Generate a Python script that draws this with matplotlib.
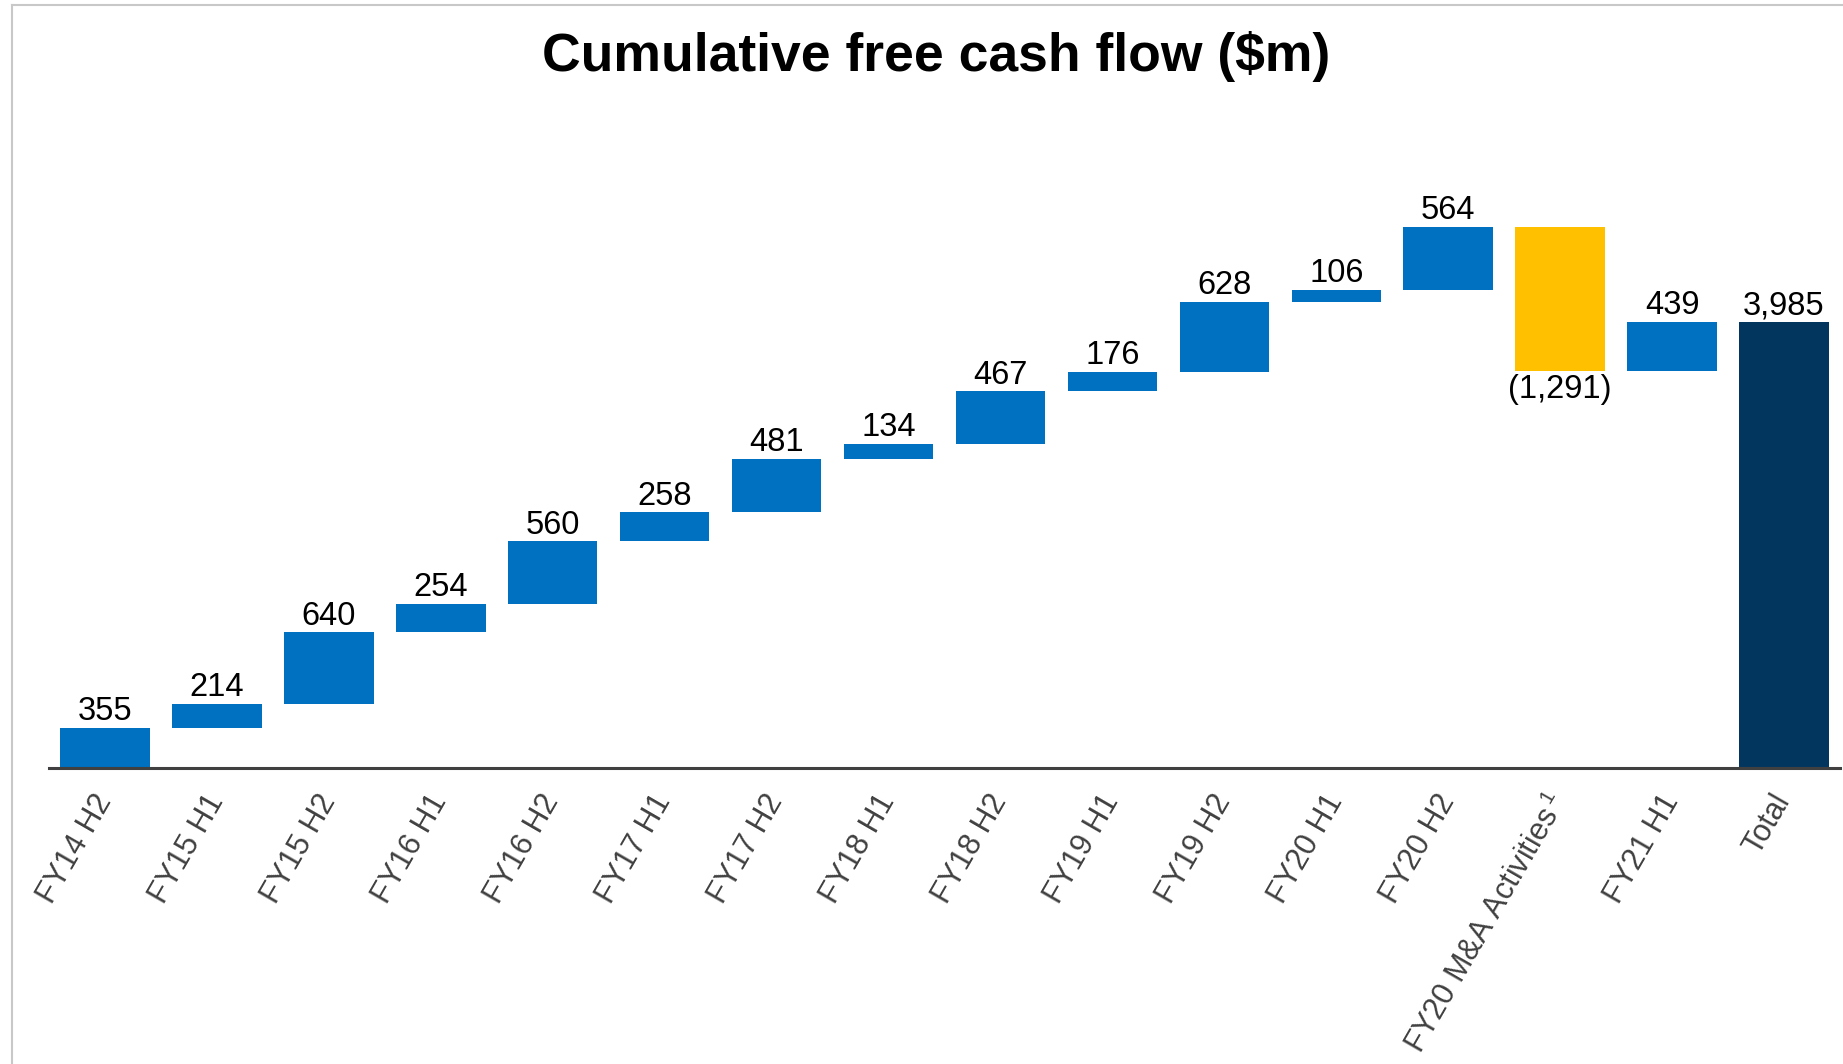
import matplotlib
matplotlib.use("Agg")
import matplotlib.pyplot as plt
from matplotlib.lines import Line2D
import numpy as np

categories = ["FY14 H2", "FY15 H1", "FY15 H2", "FY16 H1", "FY16 H2", "FY17 H1",
              "FY17 H2", "FY18 H1", "FY18 H2", "FY19 H1", "FY19 H2", "FY20 H1",
              "FY20 H2", "FY20 M&A Activities$\\,^{1}$", "FY21 H1", "Total"]
changes = [355, 214, 640, 254, 560, 258, 481, 134, 467, 176, 628, 106, 564, -1291, 439]
total = 3985

BLUE = "#0070C0"
YELLOW = "#FFC000"
NAVY = "#03365F"

plt.rcParams['font.family'] = ['Liberation Sans', 'DejaVu Sans']
plt.rcParams['mathtext.fontset'] = 'custom'
plt.rcParams['mathtext.rm'] = 'Liberation Sans'
plt.rcParams['mathtext.it'] = 'Liberation Sans'
plt.rcParams['mathtext.bf'] = 'Liberation Sans:bold'

fig = plt.figure(figsize=(18.43, 10.64), dpi=100)
ax = fig.add_axes([49/1843, (1064-767.5)/1064, 1791/1843, 559.1/1064])

cum = np.cumsum([0] + changes)
starts = cum[:-1]
ends = cum[1:]

VFS = 23.5
for i, (s, e, v) in enumerate(zip(starts, ends, changes)):
    lo, hi = min(s, e), max(s, e)
    color = BLUE if v >= 0 else YELLOW
    ax.bar(i, hi - lo, bottom=lo, width=0.8, color=color, zorder=2)
    if v >= 0:
        ax.annotate(f"{v:,}", xy=(i, hi), xytext=(0, 0.5), textcoords="offset points",
                    ha="center", va="bottom", fontsize=VFS, color="black")
    else:
        ax.annotate(f"({abs(v):,})", xy=(i, lo), xytext=(0, -2), textcoords="offset points",
                    ha="center", va="top", fontsize=VFS, color="black")

ti = len(changes)
ax.bar(ti, total, bottom=0, width=0.8, color=NAVY, zorder=2)
ax.annotate(f"{total:,}", xy=(ti, total), xytext=(0, 0.5), textcoords="offset points",
            ha="center", va="bottom", fontsize=VFS, color="black")

ax.set_xlim(-0.5, len(categories) - 0.5)
ax.set_ylim(0, 5000)
ax.set_yticks([])
ax.set_xticks(range(len(categories)))
ax.set_xticklabels(categories, rotation=60, ha="right", va="center",
                   rotation_mode="anchor", fontsize=22, color="#404040")
ax.tick_params(axis="x", length=0, pad=21)
for side in ["top", "right", "left"]:
    ax.spines[side].set_visible(False)
ax.spines["bottom"].set_color("#404040")
ax.spines["bottom"].set_linewidth(2.2)
ax.spines["bottom"].set_zorder(3)
ax.patch.set_alpha(0)

fig.text(936/1843, 1 - 57/1064, "Cumulative free cash flow (\\$m)", ha="center", va="center",
         fontsize=38.5, fontweight="bold", color="black")

# light frame (left and top edges)
fig.add_artist(Line2D([12/1843, 12/1843], [0, 1 - 5/1064], transform=fig.transFigure,
                      color="#C8C8C8", linewidth=1.5))
fig.add_artist(Line2D([12/1843, 1], [1 - 5/1064, 1 - 5/1064], transform=fig.transFigure,
                      color="#C8C8C8", linewidth=1.5))

fig.savefig("out.png", dpi=100)
